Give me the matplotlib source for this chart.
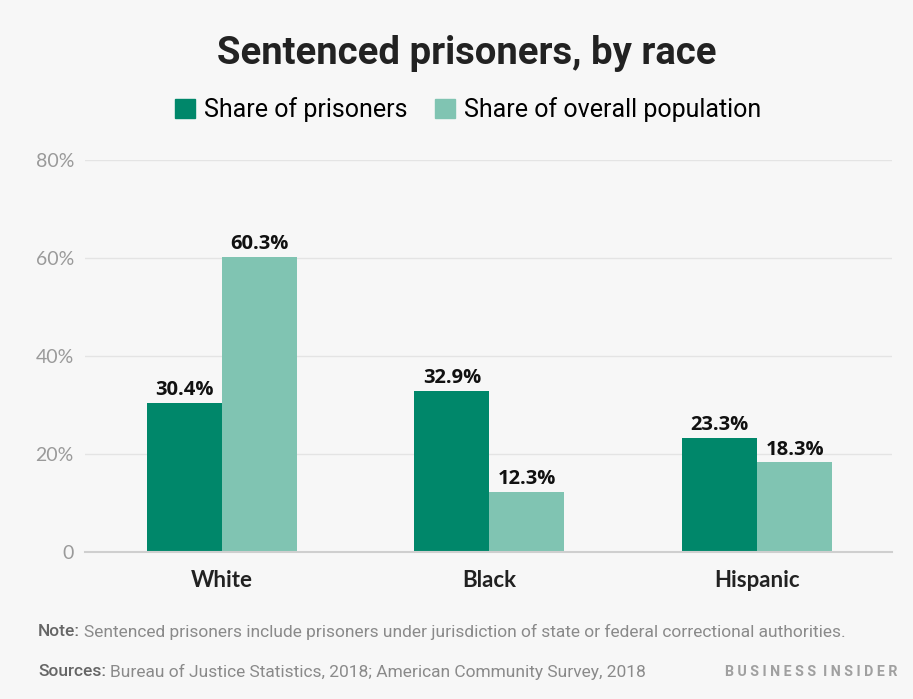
import matplotlib
matplotlib.use("Agg")
import matplotlib.pyplot as plt
import numpy as np
from matplotlib.patches import Patch

categories = ["White", "Black", "Hispanic"]
share_prisoners = [30.4, 32.9, 23.3]
share_population = [60.3, 12.3, 18.3]
series_names = ["Share of prisoners", "Share of overall population"]
yticks = [0, 20, 40, 60, 80]
ytick_labels = ["0", "20%", "40%", "60%", "80%"]

BG = "#f7f7f7"
DARK = "#00876a"
LIGHT = "#80c4b2"

fig = plt.figure(figsize=(9.13, 6.99), dpi=100, facecolor=BG)
ax = fig.add_axes([85/913, 1-552/699, (892-85)/913, (552-160)/699], facecolor=BG)

x = np.arange(len(categories))
w = 0.28
b1 = ax.bar(x - w/2, share_prisoners, w, color=DARK, zorder=3)
b2 = ax.bar(x + w/2, share_population, w, color=LIGHT, zorder=3)

for xs, vals in [(x - w/2, share_prisoners), (x + w/2, share_population)]:
    for xi, v in zip(xs, vals):
        ax.annotate(f"{v:.1f}%", (xi, v), xytext=(0, 2), textcoords="offset points",
                    ha="center", va="bottom", family=["Open Sans", "DejaVu Sans"],
                    fontweight="bold", fontsize=14.5, color="#111111", zorder=5)

ax.set_xlim(-0.511, 2.504)
ax.set_ylim(0, 80)
ax.set_yticks(yticks)
ax.set_yticklabels(ytick_labels, family=["Lato", "DejaVu Sans"], size=14, color="#9a9a9a")
ax.set_xticks(x)
ax.set_xticklabels(categories, family=["Lato", "DejaVu Sans"], weight="bold", size=16, color="#222222")
ax.tick_params(axis="y", length=0, pad=8)
ax.tick_params(axis="x", length=0, pad=13)
ax.grid(axis="y", color="#e4e4e4", linewidth=1, zorder=0)
for s in ["top", "right", "left"]:
    ax.spines[s].set_visible(False)
ax.spines["bottom"].set_color("#cfcfcf")
ax.spines["bottom"].set_linewidth(1.5)
ax.spines["bottom"].set_zorder(4)

fig.text(467/913, 1-53/699, "Sentenced prisoners, by race", ha="center", va="center",
         family=["Roboto", "DejaVu Sans"], weight="bold", size=27.5, color="#222222")

handles = [Patch(color=DARK), Patch(color=LIGHT)]
fig.legend(handles, series_names, loc="center", bbox_to_anchor=(468/913, 1-110/699), ncol=2,
           frameon=False, handlelength=0.8, handleheight=0.8, handletextpad=0.35,
           columnspacing=1.1, prop=dict(family=["Roboto", "DejaVu Sans"], size=18))

note_font = ["Roboto", "DejaVu Sans"]
fig.canvas.draw()
r = fig.canvas.get_renderer()

def two_part(y, bold, rest):
    t = fig.text(38/913, y, bold, ha="left", va="center", family=note_font,
                 size=12.5, color="#666666", weight="medium")
    bb = t.get_window_extent(renderer=r)
    fig.text((bb.x1 + 4)/913, y, rest, ha="left", va="center", family=note_font,
             size=12.5, color="#8a8a8a")

two_part(1-632/699, "Note:", "Sentenced prisoners include prisoners under jurisdiction of state or federal correctional authorities.")
two_part(1-672/699, "Sources:", "Bureau of Justice Statistics, 2018; American Community Survey, 2018")
fig.text(897/913, 1-672/699, "B U S I N E S S  I N S I D E R", ha="right", va="center",
         family=["Roboto", "DejaVu Sans"], weight="bold", size=10.3, color="#a0a0a0")

fig.savefig("out.png", dpi=100, facecolor=BG)
